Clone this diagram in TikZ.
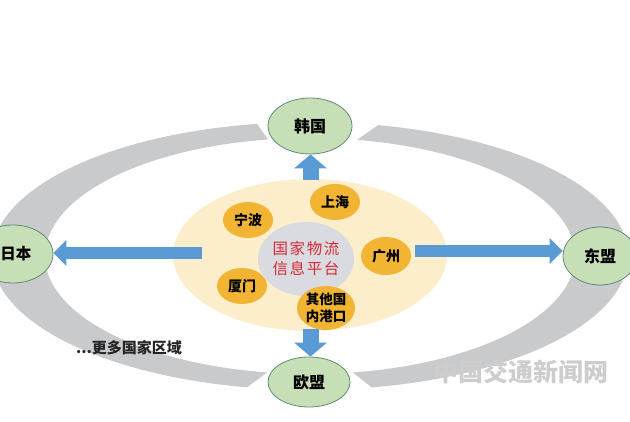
\documentclass[tikz,border=0pt]{standalone}
\usepackage{fontspec}
\newfontfamily\cjk{Noto Sans CJK SC}
\newfontfamily\cjkred{Noto Sans CJK SC}[LetterSpace=10]
\usetikzlibrary{shapes.geometric,arrows.meta,calc}
\definecolor{ringgray}{HTML}{C9CACC}
\definecolor{nodegreen}{HTML}{C6DFB6}
\definecolor{nodeedge}{HTML}{5F8A78}
\definecolor{cream}{HTML}{FCEDCB}
\definecolor{hubgray}{HTML}{DADBE0}
\definecolor{portorange}{HTML}{F1B433}
\definecolor{arrowblue}{HTML}{5B9BD5}
\definecolor{hubred}{HTML}{D42A36}
\definecolor{wmgray}{HTML}{CDCDCD}
\tikzset{
  country/.style={ellipse, draw=nodeedge, fill=nodegreen, line width=0.8pt, inner sep=0pt,
    font=\cjk\bfseries\fontsize{16}{18}\selectfont},
  port/.style={ellipse, fill=portorange, inner sep=0pt, align=center,
    font=\cjk\bfseries\fontsize{14}{17}\selectfont},
  flowarrow/.style={draw=arrowblue, line width=12pt, -{Triangle[length=13pt,width=25pt]}},
  vflowarrow/.style={draw=arrowblue, line width=16pt, -{Triangle[length=14pt,width=32pt]}},
  ringband/.style={fill=ringgray}
}
\begin{document}
\begin{tikzpicture}[x=1pt,y=1pt]
\useasboundingbox (0,0) rectangle (630,421);
\coordinate (c) at (310,165);
% gray ring, two C-shaped pieces
\fill[ringband] ($(c)+(99.6:318 and 134)$)
  arc[start angle=99.6, end angle=258.6, x radius=318, y radius=134]
  -- ($(c)+(260.7:265 and 118)$)
  arc[start angle=260.7, end angle=99.1, x radius=265, y radius=118] -- cycle;
\fill[ringband] ($(c)+(77.65:318 and 134)$)
  arc[start angle=77.65, end angle=-78.8, x radius=318, y radius=134]
  -- ($(c)+(-80.7:265 and 118)$)
  arc[start angle=-80.7, end angle=79.8, x radius=265, y radius=118] -- cycle;
% inner cream region
\node[ellipse, fill=cream, minimum width=274, minimum height=152, inner sep=0pt] (zone) at (310,166) {};
\node[ellipse, fill=hubgray, minimum width=96, minimum height=74, inner sep=0pt, align=center,
  text=hubred, font=\cjkred\fontsize{15.5}{20}\selectfont] (hub) at (306,162) {国家物流\\信息平台};
\node[port, minimum width=50, minimum height=36] (nb) at (248,201) {宁波};
\node[port, minimum width=50, minimum height=36] (sh) at (335,219) {上海};
\node[port, minimum width=50, minimum height=38] (gz) at (386,165) {广州};
\node[port, minimum width=50, minimum height=36] (xm) at (242,135) {厦门};
\node[port, minimum width=58, minimum height=44, font=\cjk\bfseries\fontsize{13.5}{17}\selectfont] (qt) at (326,113) {其他国\\内港口};
% countries
\node[country, minimum width=84, minimum height=56] (hg) at (310,295) {韩国};
\node[country, minimum width=82, minimum height=50] (om) at (309,39) {欧盟};
\node[country, minimum width=80, minimum height=58, font=\cjk\bfseries\fontsize{15.5}{18}\selectfont] (rb) at (13,167) {\hspace*{6pt}日本};
\node[country, minimum width=74, minimum height=58] (dm) at (600,165) {东盟};
% arrows
\coordinate (tL) at (202,168);
\coordinate (tR) at (415,170);
\coordinate (tU) at (310.5,241);
\coordinate (tD) at (310.5,92);
\draw[flowarrow] (tL) -- (tL -| rb.east);
\draw[flowarrow] (tR) -- (tR -| dm.west);
\draw[vflowarrow] (tU) -- (tU |- hg.south);
\draw[vflowarrow] (tD) -- (tD |- om.north);
% texts
\node[font=\cjk\bfseries\fontsize{15}{17}\selectfont, text=black!85] (more) at (129,73) {...更多国家区域};
\node[font=\cjk\bfseries\fontsize{25}{27}\selectfont, text=wmgray] (wm) at (521,49) {中国交通新闻网};
\end{tikzpicture}
\end{document}
